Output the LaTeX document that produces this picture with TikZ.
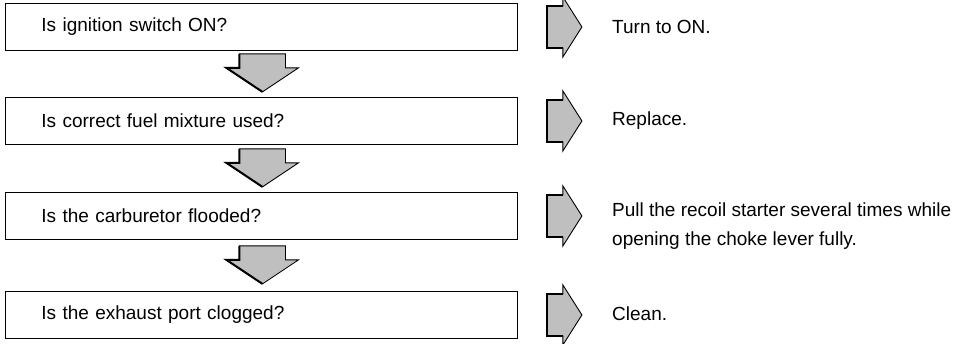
\documentclass[tikz,border=0pt]{standalone}
\usepackage{fontspec}
\setmainfont{Liberation Sans}
\begin{document}
\begin{tikzpicture}[x=1pt,y=-1pt,
  qbox/.style={draw, line width=0.9pt, anchor=north west, minimum width=512pt,
    minimum height=47pt, text width=440pt, inner xsep=36pt, inner ysep=0pt,
    align=left, font=\fontsize{19}{23}\selectfont},
  ans/.style={anchor=west, inner sep=0pt, align=left, font=\fontsize{19}{29}\selectfont},
  arrfill/.style={fill=gray!50},
  arrline/.style={draw, line width=0.9pt, line join=miter},
  arrheavy/.style={draw, line width=2pt, line join=miter},
  downarr/.pic={
    \path[arrfill] (-23,0) -- (23,0) -- (23,14) -- (36,14) -- (0,38) -- (-36,14) -- (-23,14) -- cycle;
    \path[arrline] (-23,0) -- (23,0) -- (23,14) -- (36,14) -- (0,38) -- (-36,14) -- (-23,14) -- cycle;
    \path[arrheavy] (-23,0) -- (-23,14) -- (-36,14) -- (0,38);
  },
  rightarr/.pic={
    \path[arrfill] (0,-21) -- (16,-21) -- (16,-30) -- (35,0) -- (16,30) -- (16,21) -- (0,21) -- cycle;
    \path[arrline] (0,-21) -- (16,-21) -- (16,-30) -- (35,0) -- (16,30) -- (16,21) -- (0,21) -- cycle;
    \path[arrheavy] (16,-21) -- (0,-21) -- (0,21) -- (16,21);
  }]
\useasboundingbox (0,0) rectangle (957,343);

\node[qbox] (b1) at (5,3)   {Is ignition switch ON?};
\node[qbox] (b2) at (5,97)  {Is correct fuel mixture used?};
\node[qbox] (b3) at (5,192) {Is the carburetor flooded?};
\node[qbox] (b4) at (5,291) {Is the exhaust port clogged?};

\path (b1.south) ++(1,3) pic {downarr};
\path (b2.south) ++(1,4) pic {downarr};
\path (b3.south) ++(1,6) pic {downarr};

\path (b1.east) ++(29,0) pic {rightarr};
\path (b2.east) ++(29,0) pic {rightarr};
\path (b3.east) ++(29,0) pic {rightarr};
\path (b4.east) ++(29,0) pic {rightarr};

\node[ans] (a1) at (612,27)  {Turn to ON.};
\node[ans] (a2) at (612,121) {Replace.};
\node[ans] (a3) at (612,226) {Pull the recoil starter several times while\\opening the choke lever fully.};
\node[ans] (a4) at (612,314) {Clean.};
\end{tikzpicture}
\end{document}
